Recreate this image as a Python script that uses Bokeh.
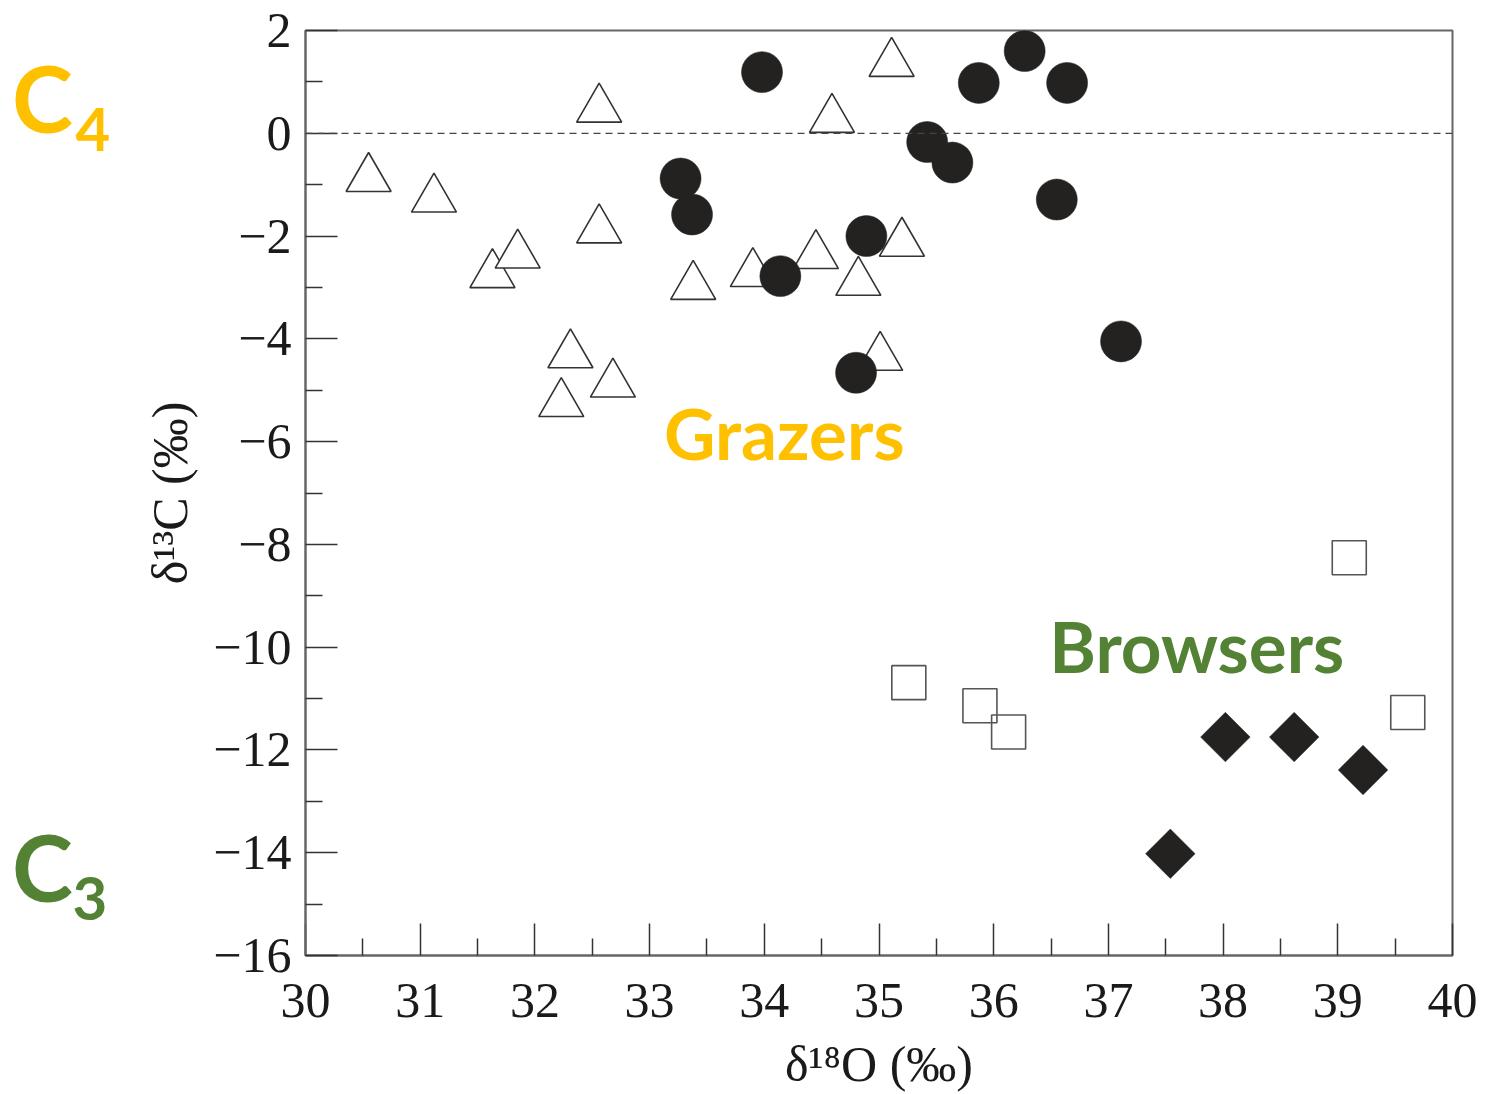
from bokeh.plotting import figure
from bokeh.layouts import row
from bokeh.models import FixedTicker, Span, Label, CustomJSTickFormatter, Range1d
from bokeh.core.properties import value
from bokeh.embed import file_html
from bokeh.resources import INLINE

# ---- data ----
# Grazers: open triangles
grazer_tri_x = [30.55, 31.12, 31.63, 31.85, 32.56, 32.56, 32.31, 32.68, 32.23,
                33.38, 33.90, 34.45, 34.82, 35.20, 34.59, 35.11, 35.01]
grazer_tri_y = [-0.88, -1.28, -2.75, -2.37, 0.47, -1.88, -4.31, -4.88, -5.26,
                -2.98, -2.73, -2.38, -2.90, -2.14, 0.27, 1.36, -4.36]
# Grazers: filled circles
grazer_circ_x = [33.98, 33.27, 33.37, 34.14, 34.89, 34.80, 35.42, 35.64, 35.87,
                 36.27, 36.64, 36.55, 37.11]
grazer_circ_y = [1.19, -0.88, -1.58, -2.78, -2.00, -4.66, -0.17, -0.57, 0.98,
                 1.60, 0.98, -1.29, -4.05]
# Browsers: open squares
browser_sq_x = [35.26, 35.88, 36.13, 39.10, 39.61]
browser_sq_y = [-10.69, -11.14, -11.65, -8.26, -11.27]
# Browsers: filled diamonds
browser_dia_x = [37.54, 38.02, 38.62, 39.22]
browser_dia_y = [-14.02, -11.75, -11.75, -12.39]

x_ticks = [30, 31, 32, 33, 34, 35, 36, 37, 38, 39, 40]
x_minor = [30.5, 31.5, 32.5, 33.5, 34.5, 35.5, 36.5, 37.5, 38.5, 39.5]
y_ticks = [-16, -14, -12, -10, -8, -6, -4, -2, 0, 2]
y_minor = [-15, -13, -11, -9, -7, -5, -3, -1, 1]

x_label = "δ¹⁸O (‰)"
y_label = "δ¹³C (‰)"

# C4 / C3 pathway labels (placed on the δ13C scale)
pathway_main = ["C", "C"]
pathway_sub = ["4", "3"]
pathway_main_y = [0.70, -14.27]
pathway_sub_y = [0.08, -14.89]

YELLOW = "#FFC000"
GREEN = "#548235"
SERIF = "Liberation Serif"
SANS = "Lato"

# ---- left strip: C4 / C3 photosynthesis-pathway labels ----
left = figure(width=120, height=1094, output_backend="svg", toolbar_location=None,
              x_range=Range1d(0, 120), y_range=Range1d(-16, 2),
              x_axis_location=None, y_axis_location=None, min_border=0)
left.outline_line_color = None
left.xgrid.visible = False
left.ygrid.visible = False
left.background_fill_color = "white"
left.border_fill_color = "white"

pathway_color = [YELLOW, GREEN]
left.text(x=[11.5, 11.5], y=pathway_main_y, text=pathway_main, text_color=pathway_color,
          text_font=value(SANS), text_font_style="bold", text_font_size="92px",
          text_baseline="middle", text_align="left")
left.text(x=[75, 72], y=pathway_sub_y, text=pathway_sub, text_color=pathway_color,
          text_font=value(SANS), text_font_style="bold", text_font_size="60px",
          text_baseline="middle", text_align="left")

# ---- main scatter plot ----
p = figure(width=1366, height=1094, output_backend="svg", toolbar_location=None,
           x_range=Range1d(30, 40), y_range=Range1d(-16, 2),
           min_border_left=185, min_border_right=34, min_border_top=30,
           min_border_bottom=138)
p.background_fill_color = "white"
p.border_fill_color = "white"
p.outline_line_color = "#666666"
p.outline_line_width = 2
p.xgrid.visible = False
p.ygrid.visible = False

for ax, ticks, minor in ((p.xaxis[0], x_ticks, x_minor), (p.yaxis[0], y_ticks, y_minor)):
    ax.ticker = FixedTicker(ticks=ticks, minor_ticks=minor)
    ax.axis_line_color = "#666666"
    ax.axis_line_width = 2
    ax.major_tick_in = 32
    ax.major_tick_out = 0
    ax.minor_tick_in = 17
    ax.minor_tick_out = 0
    ax.major_tick_line_color = "#333333"
    ax.major_tick_line_width = 1.5
    ax.minor_tick_line_color = "#333333"
    ax.minor_tick_line_width = 1.5
    ax.major_label_text_font = SERIF
    ax.major_label_text_font_size = "50px"
    ax.major_label_text_color = "#1a1a1a"
    ax.axis_label_text_font = SERIF
    ax.axis_label_text_font_size = "50px"
    ax.axis_label_text_font_style = "normal"
    ax.axis_label_text_color = "#1a1a1a"

p.xaxis[0].axis_label = x_label
p.yaxis[0].axis_label = y_label
p.xaxis[0].major_label_standoff = 28
p.xaxis[0].axis_label_standoff = 16
p.yaxis[0].major_label_standoff = 14
p.yaxis[0].axis_label_standoff = 12
p.yaxis[0].formatter = CustomJSTickFormatter(
    code="return tick < 0 ? '\u2212' + Math.abs(tick) : String(tick);")

p.add_layout(Span(location=0, dimension="width", line_color="#444444",
                  line_width=1.3, line_dash="7 5"))

p.scatter(grazer_tri_x, grazer_tri_y, marker="triangle", size=45,
          fill_color="white", line_color="#333333", line_width=1.6)
p.scatter(grazer_circ_x, grazer_circ_y, marker="circle", size=41,
          fill_color="#232220", line_color="#232220", line_width=0.5)
p.scatter(browser_sq_x, browser_sq_y, marker="square", size=34,
          fill_color=None, line_color="#555555", line_width=1.6)
p.scatter(browser_dia_x, browser_dia_y, marker="square", angle=0.785398, size=35,
          fill_color="#232220", line_color="#232220", line_width=0.5)

p.add_layout(Label(x=33.126, y=-5.815, text="Grazers", text_font=SANS,
                   text_font_size="71px", text_font_style="bold", text_color=YELLOW,
                   text_baseline="middle", text_align="left"))
p.add_layout(Label(x=36.485, y=-9.975, text="Browsers", text_font=SANS,
                   text_font_size="71px", text_font_style="bold", text_color=GREEN,
                   text_baseline="middle", text_align="left"))

layout = row(left, p)
open("out.html", "w").write(file_html(layout, INLINE))
